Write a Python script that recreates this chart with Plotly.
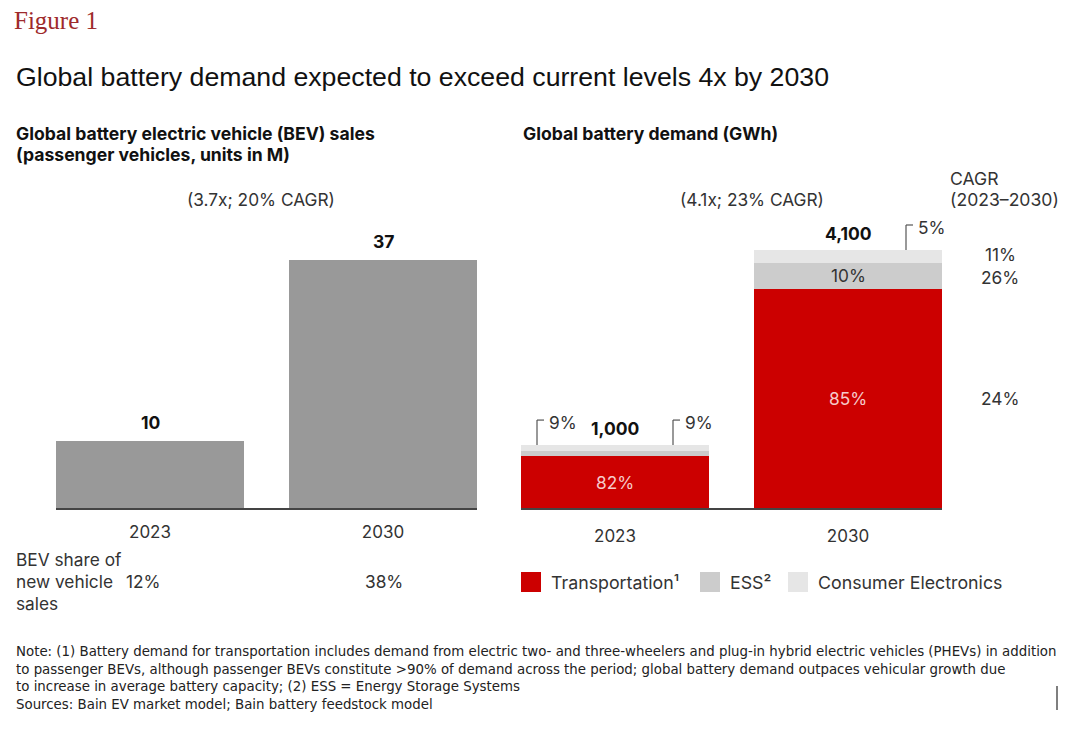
import plotly.graph_objects as go

# ---------------- data ----------------
years = ["2023", "2030"]
bev_sales = [10, 37]                 # M units
bev_share = ["12%", "38%"]
demand_total = [1000, 4100]          # GWh
transport_share = [82, 85]           # % of demand
ess_share = [9, 10]
consumer_share = [9, 5]
cagr_labels = {"Transportation": "24%", "ESS": "26%", "Consumer": "11%"}
bev_cagr_note = "(3.7x; 20% CAGR)"
demand_cagr_note = "(4.1x; 23% CAGR)"

transport_vals = [t * s / 100 for t, s in zip(demand_total, transport_share)]
ess_vals = [t * s / 100 for t, s in zip(demand_total, ess_share)]
consumer_vals = [t * s / 100 for t, s in zip(demand_total, consumer_share)]

# ---------------- geometry helpers ----------------
OFF = 8                      # page body margin
W, H = 1084 - OFF, 740 - OFF
def px(x):
    return (x - OFF) / W
def py(y):
    return 1 - (y - OFF) / H

RED = "#cc0000"
ESS_C = "#cccccc"
CE_C = "#e6e6e6"
GRAY = "#999999"
TXT = "#333333"
FONT = "Inter, Roboto, sans-serif"
FS = 17.3

bw = 188 / 233
xs = [0, 1]

fig = go.Figure()
fig.add_trace(go.Bar(x=xs, y=bev_sales, width=bw, marker=dict(color=GRAY, line_width=0),
                     xaxis="x", yaxis="y", showlegend=False, hoverinfo="y"))
fig.add_trace(go.Bar(x=xs, y=transport_vals, width=bw, marker=dict(color=RED, line_width=0),
                     xaxis="x2", yaxis="y2", name="Transportation", showlegend=False))
fig.add_trace(go.Bar(x=xs, y=ess_vals, width=bw, marker=dict(color=ESS_C, line_width=0),
                     xaxis="x2", yaxis="y2", name="ESS", showlegend=False))
fig.add_trace(go.Bar(x=xs, y=consumer_vals, width=bw, marker=dict(color=CE_C, line_width=0),
                     xaxis="x2", yaxis="y2", name="Consumer Electronics", showlegend=False))

ydom = [py(508), py(160)]
left_top = 348 / (248 / 37)
right_top = 348 / (258 / 4100)

axis_common = dict(range=[-bw / 2, 1 + bw / 2], tickmode="array", tickvals=xs, ticktext=years,
                   showgrid=False, zeroline=False, showline=True, linecolor="#444444", linewidth=2,
                   ticks="outside", tickcolor="rgba(0,0,0,0)",
                   tickfont=dict(family=FONT, size=17, color=TXT), fixedrange=True)

fig.update_layout(
    width=W, height=H, margin=dict(l=0, r=0, t=0, b=0),
    paper_bgcolor="white", plot_bgcolor="white", barmode="stack", bargap=0,
    showlegend=False,
    xaxis=dict(domain=[px(56), px(477)], anchor="y", ticklen=8, **axis_common),
    xaxis2=dict(domain=[px(521), px(942)], anchor="y2", ticklen=12, **axis_common),
    yaxis=dict(domain=ydom, range=[0, left_top], visible=False, anchor="x"),
    yaxis2=dict(domain=ydom, range=[0, right_top], visible=False, anchor="x2"),
)

ann = []
def A(text, x, y, size=FS, color=TXT, xanchor="left", family=FONT, xref="paper", yref="paper", **kw):
    ann.append(dict(text=text, x=x, y=y, xref=xref, yref=yref, showarrow=False,
                    xanchor=xanchor, yanchor="middle", font=dict(family=family, size=size, color=color), **kw))

ann.append(dict(text="Figure 1", x=px(13), y=1, xref="paper", yref="paper", showarrow=False,
                xanchor="left", yanchor="top", borderpad=0, yshift=2,
                font=dict(family="Liberation Serif, Times New Roman, serif", size=25, color="#9e2a2b")))
A("Global battery demand expected to exceed current levels 4x by 2030", px(14), py(77), size=26.7,
  color="#111111", family="Liberation Sans, Arial, sans-serif")
A("<b>Global battery electric vehicle (BEV) sales</b>", px(14), py(133), size=17.6, color="#111111")
A("<b>(passenger vehicles, units in M)</b>", px(14), py(155), size=17.6, color="#111111")
A("<b>Global battery demand (GWh)</b>", px(521), py(133), size=17.6, color="#111111")
A(bev_cagr_note, px(261), py(199), xanchor="center")
A(demand_cagr_note, px(752), py(199), xanchor="center")
A("CAGR", px(948), py(178), size=17.6)
A("(2023–2030)", px(948), py(199), size=17.6)

# value labels on bars (data coordinates)
for i in range(2):
    ann.append(dict(text=f"<b>{bev_sales[i]}</b>", x=xs[i], y=bev_sales[i], xref="x", yref="y",
                    showarrow=False, yanchor="bottom", yshift=6,
                    font=dict(family=FONT, size=17.5, color="#111111")))
    ann.append(dict(text=f"<b>{demand_total[i]:,}</b>", x=xs[i], y=demand_total[i], xref="x2", yref="y2",
                    showarrow=False, yanchor="bottom", yshift=4,
                    font=dict(family=FONT, size=17.5, color="#111111")))
    ann.append(dict(text=f"{transport_share[i]}%", x=xs[i], y=transport_vals[i] / 2, xref="x2", yref="y2",
                    showarrow=False, font=dict(family=FONT, size=FS, color="#f6caca")))

# ESS label inside 2030
ann.append(dict(text=f"{ess_share[1]}%", x=xs[1], y=transport_vals[1] + ess_vals[1] / 2, xref="x2", yref="y2",
                showarrow=False, font=dict(family=FONT, size=FS, color=TXT)))

# bracket callouts
shapes = []
u = 1 / 233  # data units per pixel on x2
gy = 4100 / 258  # GWh per pixel
def bracket(xc, ytop, label):
    y1 = ytop + 25 * gy
    shapes.append(dict(type="line", xref="x2", yref="y2", x0=xc, x1=xc, y0=ytop, y1=y1,
                       line=dict(color="#555555", width=1.2)))
    shapes.append(dict(type="line", xref="x2", yref="y2", x0=xc, x1=xc + 7 * u, y0=y1, y1=y1,
                       line=dict(color="#555555", width=1.2)))
    ann.append(dict(text=label, x=xc + 10 * u, y=y1, xref="x2", yref="y2", showarrow=False,
                    xanchor="left", yanchor="middle", yshift=-2, font=dict(family=FONT, size=FS, color=TXT)))

bracket(xs[0] - 78 * u, demand_total[0], f"{ess_share[0]}%")
bracket(xs[0] + 58 * u, demand_total[0], f"{consumer_share[0]}%")
bracket(xs[1] + 58 * u, demand_total[1], f"{consumer_share[1]}%")

# CAGR column aligned to 2030 segments
mids = [transport_vals[1] / 2,
        transport_vals[1] + ess_vals[1] / 2,
        transport_vals[1] + ess_vals[1] + consumer_vals[1] / 2]
for lab, ym, dy in zip([cagr_labels["Transportation"], cagr_labels["ESS"], cagr_labels["Consumer"]],
                       mids, [0, -1.5, 2]):
    ann.append(dict(text=lab, x=px(1000), y=ym, xref="paper", yref="y2", showarrow=False,
                    xanchor="center", yshift=dy, font=dict(family=FONT, size=FS, color=TXT)))

# BEV share row
A("BEV share of", px(14), py(559))
A("new vehicle", px(14), py(581))
A("sales", px(14), py(603))
for lab, xc in zip(bev_share, [143, 384]):
    A(lab, px(xc), py(581), xanchor="center")

# legend (manual)
leg = [(RED, "Transportation¹", 521), (ESS_C, "ESS²", 700), (CE_C, "Consumer Electronics", 788)]
for col, lab, x0 in leg:
    shapes.append(dict(type="rect", xref="paper", yref="paper", x0=px(x0), x1=px(x0 + 20),
                       y0=py(592), y1=py(572), fillcolor=col, line_width=0))
    A(lab, px(x0 + 28), py(582), size=17.8)

# notes
NOTEF = "Liberation Sans Narrow, Arial Narrow, DejaVu Sans Condensed, sans-serif"
notes = [
    "Note: (1) Battery demand for transportation includes demand from electric two- and three-wheelers and plug-in hybrid electric vehicles (PHEVs) in addition",
    "to passenger BEVs, although passenger BEVs constitute >90% of demand across the period; global battery demand outpaces vehicular growth due",
    "to increase in average battery capacity; (2) ESS = Energy Storage Systems",
    "Sources: Bain EV market model; Bain battery feedstock model",
]
for i, t in enumerate(notes):
    A(t, px(14), py(651 + i * 17.7), size=14.85, color="#222222", family=NOTEF)

shapes.append(dict(type="line", xref="paper", yref="paper", x0=px(1057), x1=px(1057), y0=py(686), y1=py(710),
                   line=dict(color="#555555", width=1.5)))

fig.update_layout(annotations=ann, shapes=shapes)
fig.write_html("out.html")
